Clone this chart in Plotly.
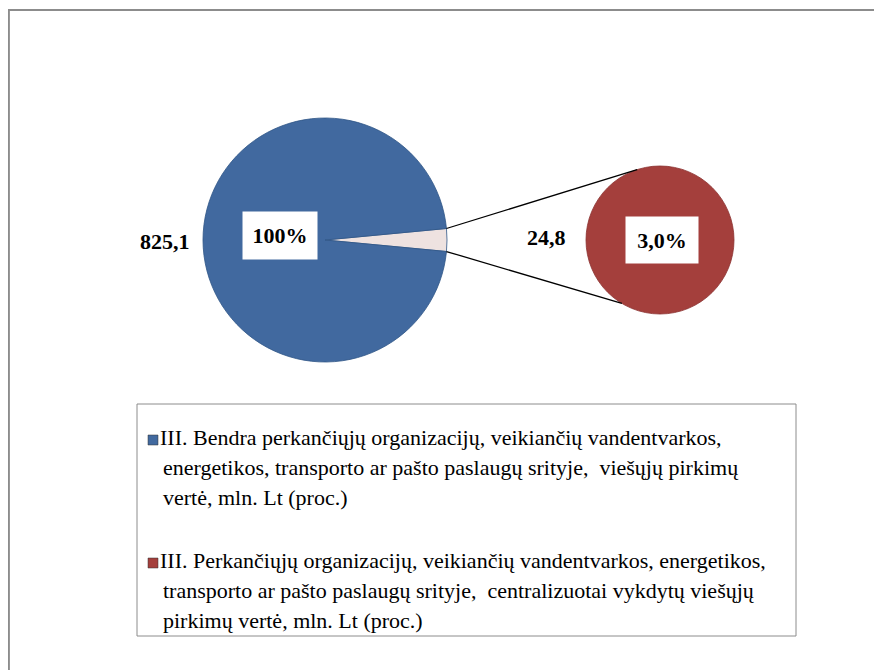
"""
Pie-of-pie: centralizuotai vykdytų viešųjų pirkimų dalis (komunalinių paslaugų sektorius).
"""

import math
import plotly.graph_objects as go

# ---------------------------------------------------------------------------
# Data
# ---------------------------------------------------------------------------

CATEGORIES = [
    "III. Bendra perkančiųjų organizacijų, veikiančių vandentvarkos, "
    "energetikos, transporto ar pašto paslaugų srityje,  viešųjų pirkimų "
    "vertė, mln. Lt (proc.)",
    "III. Perkančiųjų organizacijų, veikiančių vandentvarkos, energetikos, "
    "transporto ar pašto paslaugų srityje,  centralizuotai vykdytų viešųjų "
    "pirkimų vertė, mln. Lt (proc.)",
]
# same labels, wrapped as in the original legend
LEGEND_LINES = [
    ["III. Bendra perkančiųjų organizacijų, veikiančių vandentvarkos,",
     "energetikos, transporto ar pašto paslaugų srityje,  viešųjų pirkimų",
     "vertė, mln. Lt (proc.)"],
    ["III. Perkančiųjų organizacijų, veikiančių vandentvarkos, energetikos,",
     "transporto ar pašto paslaugų srityje,  centralizuotai vykdytų viešųjų",
     "pirkimų vertė, mln. Lt (proc.)"],
]
VALUES = [825.1, 24.8]            # mln. Lt
VALUE_LABELS = ["825,1", "24,8"]
PCT_LABELS = ["100%", "3,0%"]

# ---------------------------------------------------------------------------
# Design tokens
# ---------------------------------------------------------------------------

W, H = 882, 670
OFF = 8                            # page body margin around the plot div
BLUE = "#41699F"
RED = "#A43F3C"
WEDGE = "#EEE2E0"
BORDER = "#8C8C8C"
FONT = "Liberation Serif, Times New Roman, serif"

# pixel geometry (screen coords) of the two pies: centre x, centre y, radius
MAIN = (325, 240, 122)
SUB = (660, 240, 74)


def _px(x):
    return (x - OFF) / W


def _py(y):
    return 1 - (y - OFF) / H


def _domain(c):
    cx, cy, r = c
    return dict(x=[_px(cx - r), _px(cx + r)], y=[_py(cy + r), _py(cy - r)])


def _on_circle(c, ang):
    # angle in degrees, clockwise from 12 o'clock (same as plotly pie)
    cx, cy, r = c
    a = math.radians(ang)
    return cx + r * math.sin(a), cy - r * math.cos(a)


total, part = VALUES
rest = total - part
wedge_deg = 360 * part / total
rot = 90 - wedge_deg / 2

fig = go.Figure()

fig.add_trace(go.Pie(
    values=[part, rest],
    labels=["part", "rest"],
    marker=dict(colors=[WEDGE, BLUE], line=dict(color="#2F5587", width=0.8)),
    sort=False,
    direction="clockwise",
    rotation=rot,
    textinfo="none",
    hoverinfo="skip",
    domain=_domain(MAIN),
    showlegend=False,
))

fig.add_trace(go.Pie(
    values=[part],
    labels=["sub"],
    marker=dict(colors=[RED], line=dict(color="#8A302E", width=0.8)),
    sort=False,
    textinfo="none",
    hoverinfo="skip",
    domain=_domain(SUB),
    showlegend=False,
))

shapes = []
annotations = []

# connector lines: wedge rim -> secondary pie
for a_main, a_sub in [(rot, 342), (rot + wedge_deg, 211)]:
    x0, y0 = _on_circle(MAIN, a_main)
    x1, y1 = _on_circle(SUB, a_sub)
    shapes.append(dict(type="line", xref="paper", yref="paper",
                       x0=_px(x0), y0=_py(y0), x1=_px(x1), y1=_py(y1),
                       line=dict(color="black", width=1.3)))

# chart area border (cropped at right / bottom)
shapes.append(dict(type="rect", xref="paper", yref="paper",
                   x0=_px(8) + 0.001, y0=-0.02, x1=1.02, y1=_py(10),
                   line=dict(color=BORDER, width=2)))

# data labels
lab_font = dict(family=FONT, size=22, color="black")
annotations.append(dict(x=_px(165), y=_py(241),
                        text=f"<b>{VALUE_LABELS[0]}</b>", font=lab_font))
annotations.append(dict(x=_px(280), y=_py(236),
                        text=f"<b>{PCT_LABELS[0]}</b>", font=lab_font,
                        bgcolor="white", width=70, height=43, borderpad=2))
annotations.append(dict(x=_px(546), y=_py(237),
                        text=f"<b>{VALUE_LABELS[1]}</b>", font=lab_font))
annotations.append(dict(x=_px(662), y=_py(240),
                        text=f"<b>{PCT_LABELS[1]}</b>", font=lab_font,
                        bgcolor="white", width=68, height=42, borderpad=2))

# legend box
shapes.append(dict(type="rect", xref="paper", yref="paper",
                   x0=_px(137), y0=_py(636), x1=_px(796), y1=_py(404),
                   line=dict(color=BORDER, width=1), fillcolor="white",
                   layer="below"))

leg_font = dict(family=FONT, size=22, color="black")
first_y = [437, 560]
for i, (lines, col) in enumerate(zip(LEGEND_LINES, [BLUE, RED])):
    y = first_y[i]
    shapes.append(dict(type="rect", xref="paper", yref="paper",
                       x0=_px(148), x1=_px(158), y0=_py(y + 8), y1=_py(y - 2),
                       fillcolor=col, line=dict(color="#333", width=0.5)))
    for j, line in enumerate(lines):
        annotations.append(dict(x=_px(158 if j == 0 else 161),
                                y=_py(y + 30 * j), text=line,
                                xanchor="left", font=leg_font))

for a in annotations:
    a.setdefault("xref", "paper")
    a.setdefault("yref", "paper")
    a.setdefault("xanchor", "center")
    a.setdefault("yanchor", "middle")
    a.setdefault("showarrow", False)

fig.update_layout(
    width=W, height=H,
    margin=dict(l=0, r=0, t=0, b=0),
    paper_bgcolor="white",
    plot_bgcolor="white",
    font=dict(family=FONT, color="black"),
    shapes=shapes,
    annotations=annotations,
)

fig.write_html("out.html")
